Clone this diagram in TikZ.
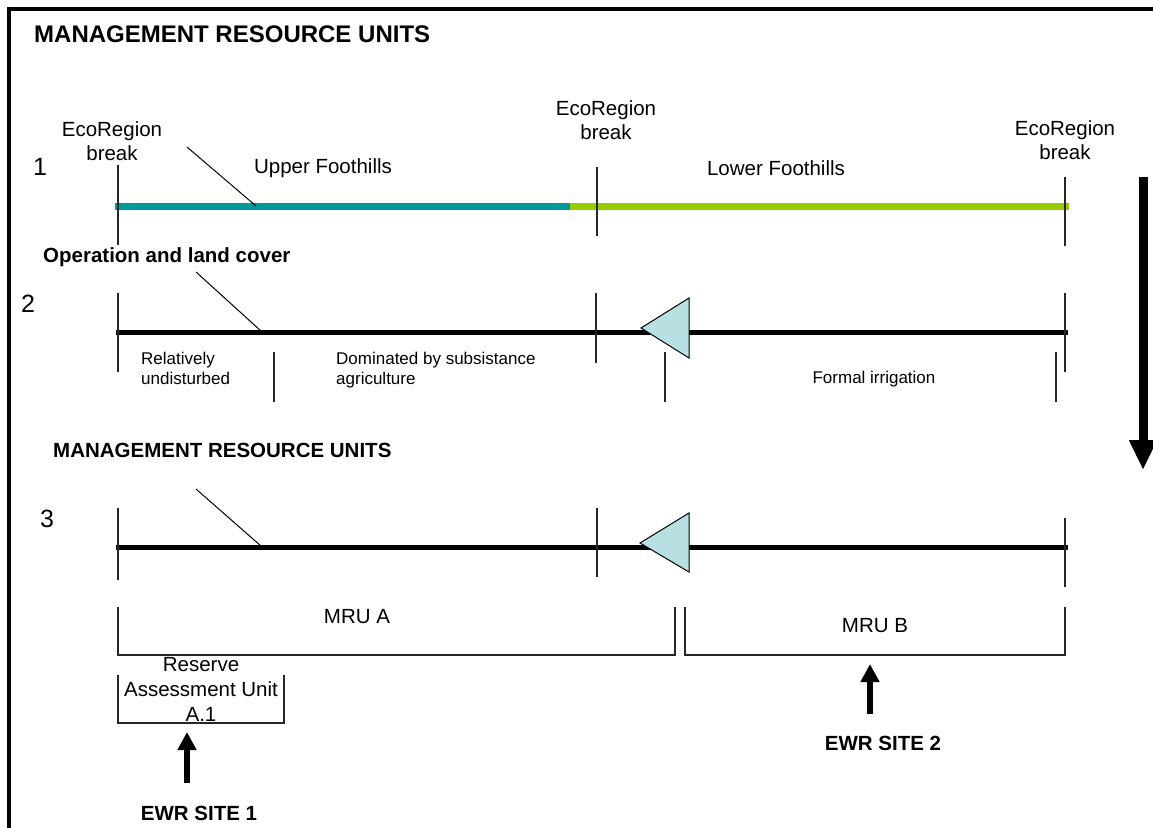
\documentclass[tikz,border=0pt]{standalone}
\usepackage{fontspec}
\setmainfont{Liberation Sans}
\usetikzlibrary{arrows.meta}
\definecolor{seacol}{RGB}{0,153,153}
\definecolor{leafcol}{RGB}{153,204,0}
\definecolor{weircol}{RGB}{184,224,227}
\begin{document}
\begin{tikzpicture}[x=1pt,y=-1pt,
  txt/.style={inner sep=0pt, font=\fontsize{20.5}{24}\selectfont},
  small/.style={inner sep=0pt, font=\fontsize{17}{20}\selectfont},
  head/.style={inner sep=0pt, font=\fontsize{20.5}{24}\selectfont\bfseries},
  bighead/.style={inner sep=0pt, font=\fontsize{24}{28}\selectfont\bfseries},
  num/.style={inner sep=0pt, font=\fontsize{25}{30}\selectfont},
  tickline/.style={line width=1.2pt, draw=black!85},
  leader/.style={line width=1pt},
  river/.style={line width=5pt},
  bracket/.style={line width=1.3pt, draw=black!85},
  site/.style={line width=6pt, -{Triangle[length=18pt,width=18pt]}},
  weir/.style={draw, line width=1pt, fill=weircol, line join=miter}]

\useasboundingbox (0,0) rectangle (1153,827);
\fill[white] (0,0) rectangle (1153,827);

% outer frame (left and top edges)
\draw[line width=4pt, line join=miter] (9,829) -- (9,9) -- (1155,9);

% headings
\node[bighead, anchor=base west] (title) at (34,42) {MANAGEMENT RESOURCE UNITS};

% ---------- level 1: eco-regions ----------
\node[num, anchor=base west] (n1) at (33,175) {1};
\node[txt, align=center, text depth=0pt, anchor=south] (eco1) at (112,161) {EcoRegion\\break};
\node[txt, align=center, text depth=0pt, anchor=south] (eco2) at (606,140) {EcoRegion\\break};
\node[txt, align=center, text depth=0pt, anchor=south] (eco3) at (1065,160) {EcoRegion\\break};
\node[txt, anchor=base] (upper) at (323,173) {Upper Foothills};
\node[txt, anchor=base] (lower) at (776,175) {Lower Foothills};

\draw[line width=7pt, leafcol] (563,206) -- (1069,206);
\draw[line width=7pt, seacol] (115,206) -- (570,206);
\draw[leader] (187,147) -- (256,206);
\draw[tickline] (118,165) -- (118,245);
\draw[tickline] (597,167) -- (597,236);
\draw[tickline] (1065,177) -- (1065,246);

% ---------- level 2: operation and land cover ----------
\node[head, anchor=base west] (oplc) at (43,262) {Operation and land cover};
\node[num, anchor=base west] (n2) at (21,312) {2};
\draw[river] (116,332) -- (1068,332);
\draw[leader] (196,272) -- (261,331);
\draw[tickline] (118,293) -- (118,372);
\draw[tickline] (596,293) -- (596,363);
\draw[tickline] (1065,293) -- (1065,372);
\draw[tickline] (274,352) -- (274,402);
\draw[tickline] (665,352) -- (665,402);
\draw[tickline] (1056,352) -- (1056,402);
\draw[weir] (641,328) -- (689,298) -- (689,358) -- cycle;
\node[small, align=left, text depth=0pt, anchor=south west] (undist) at (141,385) {Relatively\\undisturbed};
\node[small, align=left, text depth=0pt, anchor=south west] (subsist) at (336,385) {Dominated by subsistance\\agriculture};
\node[small, anchor=base] (irrig) at (874,383) {Formal irrigation};

% ---------- level 3: management resource units ----------
\node[head, anchor=base west] (title2) at (53,457) {MANAGEMENT RESOURCE UNITS};
\node[num, anchor=base west] (n3) at (40,527) {3};
\draw[river] (116,547) -- (1068,547);
\draw[leader] (196,489) -- (261,546);
\draw[tickline] (118,508) -- (118,580);
\draw[tickline] (597,508) -- (597,577);
\draw[tickline] (1065,518) -- (1065,587);
\draw[weir] (640,543) -- (689,513) -- (689,572) -- cycle;

% unit brackets
\draw[bracket] (118,607) -- (118,655) -- (675,655) -- (675,607);
\draw[bracket] (685,607) -- (685,655) -- (1065,655) -- (1065,607);
\node[txt, anchor=base] (mrua) at (357,623) {MRU A};
\node[txt, anchor=base] (mrub) at (875,632) {MRU B};

\draw[bracket] (118,675) -- (118,723) -- (284,723) -- (284,675);
\node[txt, align=center, text depth=0pt, anchor=south, font=\fontsize{20.5}{25}\selectfont] (rau) at (201,722) {Reserve\\Assessment Unit\\A.1};

% EWR sites
\node[head, anchor=base] (ewr1) at (199,820) {EWR SITE 1};
\node[head, anchor=base] (ewr2) at (883,750) {EWR SITE 2};
\coordinate (ewr1top) at (187,732);
\coordinate (ewr1foot) at (187,783);
\coordinate (ewr2top) at (870,664);
\coordinate (ewr2foot) at (870,714);
\draw[site] (ewr1foot) -- (ewr1top);
\draw[site] (ewr2foot) -- (ewr2top);

% downward progression arrow
\coordinate (flowtop) at (1143,177);
\coordinate (flowend) at (1143,470);
\draw[line width=9pt, -{Triangle[length=30pt,width=26pt]}] (flowtop) -- (flowend);
\end{tikzpicture}
\end{document}
